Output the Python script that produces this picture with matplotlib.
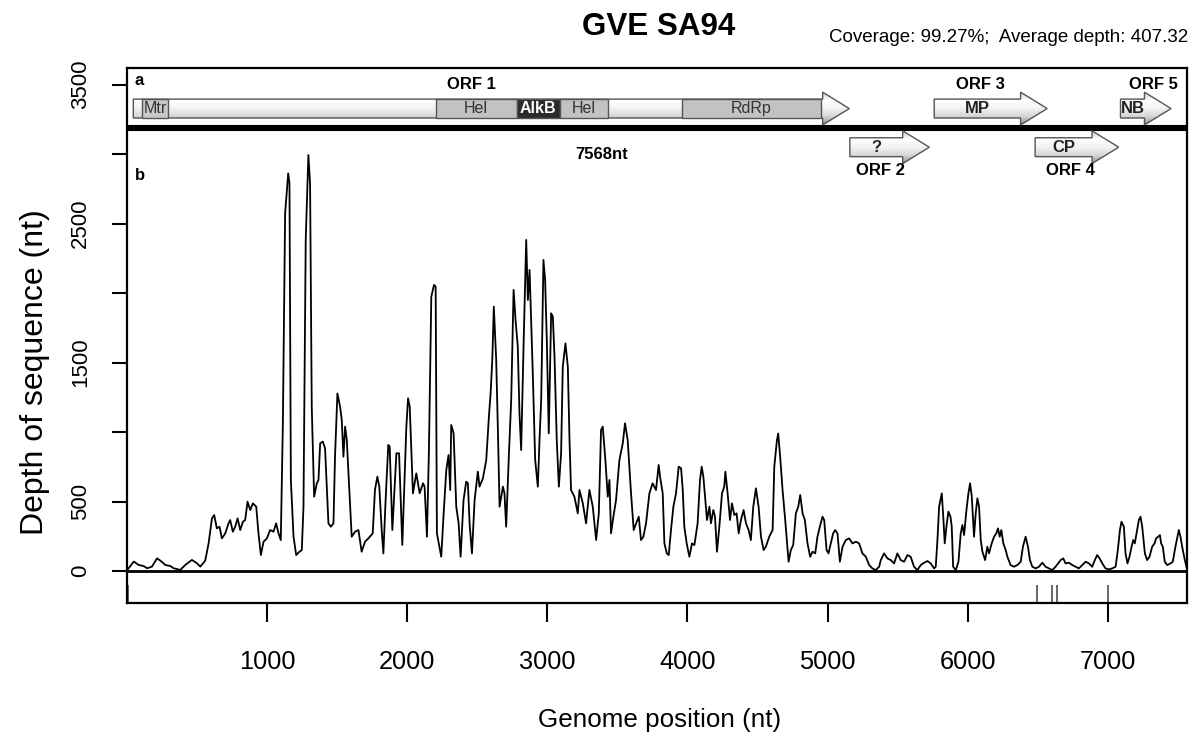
import numpy as np
import matplotlib
matplotlib.use('Agg')
import matplotlib.pyplot as plt
from matplotlib import font_manager
from matplotlib.patches import Polygon, Rectangle
from matplotlib.colors import LinearSegmentedColormap

# depth of sequence along the genome
pos = [2, 50, 85, 121, 145, 180, 216, 240, 275, 311, 335, 382, 418, 465, 501, 525, 560, 584, 608, 624,
       643, 662, 679, 703, 726, 738, 757, 774, 791, 810, 829, 845, 862, 881, 900, 924, 940, 957, 976, 1000,
       1023, 1047, 1066, 1083, 1099, 1114, 1130, 1152, 1161, 1171, 1190, 1209, 1232, 1249, 1261, 1277, 1296,
       1308, 1320, 1337, 1356, 1368, 1380, 1399, 1415, 1427, 1439, 1456, 1475, 1486, 1503, 1522, 1534, 1546,
       1558, 1570, 1589, 1605, 1629, 1653, 1676, 1700, 1724, 1755, 1771, 1788, 1802, 1819, 1831, 1847, 1866,
       1876, 1895, 1924, 1943, 1966, 1995, 2007, 2019, 2042, 2066, 2078, 2090, 2114, 2125, 2142, 2156, 2173,
       2192, 2204, 2213, 2244, 2261, 2280, 2296, 2308, 2315, 2332, 2351, 2368, 2382, 2403, 2422, 2434, 2446,
       2463, 2482, 2505, 2517, 2541, 2565, 2584, 2596, 2608, 2619, 2636, 2648, 2660, 2684, 2695, 2707, 2726,
       2743, 2760, 2774, 2790, 2802, 2814, 2831, 2850, 2862, 2874, 2885, 2897, 2914, 2933, 2945, 2957, 2973,
       2985, 2997, 3011, 3028, 3040, 3052, 3068, 3083, 3099, 3111, 3130, 3147, 3159, 3170, 3194, 3218, 3230,
       3254, 3277, 3301, 3325, 3349, 3368, 3384, 3396, 3415, 3432, 3444, 3455, 3472, 3491, 3515, 3539, 3555,
       3574, 3598, 3617, 3634, 3653, 3669, 3686, 3705, 3729, 3752, 3776, 3795,
       3805, 3824, 3836, 3853, 3867, 3883, 3900, 3919, 3938, 3955, 3967, 3978, 3995, 4014, 4033, 4050, 4073,
       4090, 4102, 4114, 4128, 4140, 4157, 4168, 4185, 4197, 4211, 4228, 4247, 4263, 4271, 4287, 4304, 4318,
       4335, 4351, 4366, 4382, 4401, 4418, 4437, 4453, 4470, 4489, 4508, 4525, 4544, 4560, 4584, 4608, 4620,
       4639, 4648, 4662, 4679, 4698, 4722, 4738, 4755, 4774, 4791, 4805, 4822, 4838, 4857, 4876, 4893, 4912,
       4928, 4945, 4964, 4976, 4993, 5007, 5023, 5040, 5054, 5071, 5088, 5107, 5130, 5154, 5178, 5202, 5225,
       5249, 5273, 5297, 5320, 5344, 5368, 5380, 5403, 5427, 5451, 5475, 5498, 5522, 5546, 5570, 5593, 5617,
       5641,
       5665, 5689, 5713, 5736, 5760, 5772, 5784, 5796, 5815, 5827, 5836, 5848, 5862, 5877, 5886, 5896, 5915,
       5934, 5950, 5962, 5974, 5991, 6005, 6017, 6029, 6045, 6057, 6069, 6081, 6093, 6105, 6124, 6140, 6152,
       6171, 6188, 6204, 6216, 6228, 6240, 6254, 6271, 6283, 6306, 6330, 6354, 6378, 6394, 6413, 6430, 6444,
       6461, 6485, 6508, 6532, 6556, 6580, 6603, 6627, 6663, 6682, 6698, 6722, 6746, 6770, 6793, 6817, 6841,
       6865, 6888, 6907, 6924, 6941, 6960, 6983, 7007, 7031, 7055, 7071, 7086, 7097, 7114, 7126, 7140, 7154,
       7169, 7181, 7192, 7209, 7221, 7233, 7245, 7264, 7280, 7297, 7316, 7333, 7344, 7359, 7371, 7380, 7392,
       7406, 7423, 7447, 7463, 7482, 7496, 7506, 7518, 7530, 7549, 7565]
depth = [5, 68, 44, 36, 20, 32, 91, 75, 44, 36, 20, 8, 44, 80, 56, 32, 75, 199, 379, 403,
         307, 319, 235, 271, 343, 367, 283, 319, 379, 295, 355, 367, 499, 439, 487, 463, 271, 115, 211, 235,
         295, 283, 343, 271, 223, 1063, 2573, 2861, 2789, 655, 247, 115, 139, 151, 463, 2382, 2993,
         2789, 1183, 535, 631, 655, 919, 931, 883, 607, 343, 319, 343, 823, 1278, 1183, 1087, 823,
         1039, 943, 559, 247, 283, 295, 139, 211, 235, 271, 583, 679, 607, 295, 127, 511, 907,
         895, 295, 847, 847, 188, 1039, 1243, 1183, 559, 703, 631, 559, 631, 607, 247, 871, 1974,
         2058, 2046, 271, 103, 415, 727, 835, 583, 1051, 991, 463, 343, 103, 511, 643, 631, 343,
         127, 511, 715, 607, 667, 799, 1111, 1278, 1518, 1902, 1518, 1015, 463, 607, 559, 319, 823,
         1231, 2022, 1806, 1614, 1135, 871, 1614, 2382, 1950, 2166, 1806, 1422, 799, 607, 943, 1231, 2238,
         2094, 1662, 991, 1854, 1830, 1542, 943, 607, 847, 1470, 1638, 1470, 943, 583, 535, 415, 583,
         487, 343, 583, 463, 223, 415, 1015, 1039, 799, 535, 655, 271, 391, 511, 799, 919, 1063,
         943, 559, 295, 343, 391, 223, 247, 343, 559, 631, 583, 763,
         679, 559, 199, 127, 115, 295, 463, 559, 751, 739, 583, 319, 199, 103, 199, 187, 343,
         655, 751, 679, 511, 367, 463, 343, 439, 391, 139, 319, 559, 607, 715, 559, 367, 487,
         403, 415, 271, 367, 439, 343, 295, 223, 463, 595, 463, 247, 151, 175, 247, 295, 751,
         942, 990, 822, 583, 367, 67, 151, 187, 415, 463, 547, 415, 367, 199, 103, 139, 127,
         247, 319, 391, 367, 151, 127, 199, 271, 295, 271, 67, 175, 223, 235, 199, 211, 199,
         127, 103, 43, 19, 7, 31, 79, 127, 91, 79, 55, 127, 79, 67, 115, 103, 31,
         7,
         43, 60, 72, 55, 19, 31, 223, 463, 559, 367, 199, 319, 427, 391, 319, 31, 7,
         67, 271, 331, 259, 439, 559, 631, 535, 247, 415, 523, 463, 223, 139, 79, 175, 127,
         199, 247, 271, 307, 247, 295, 199, 151, 103, 43, 31, 43, 67, 175, 247, 175, 79,
         31, 19, 31, 60, 31, 19, 7, 31, 79, 91, 55, 60, 43, 31, 19, 43, 67,
         55, 31, 79, 115, 91, 55, 19, 12, 19, 31, 151, 295, 355, 319, 127, 55, 103,
         175, 223, 199, 295, 367, 391, 319, 127, 79, 103, 175, 199, 235, 247, 259, 199, 175,
         67, 43, 55, 67, 175, 247, 295, 247, 175, 79, 12]

genome_len = 7568
gap_pos = [7, 6495, 6603, 6638, 7001]

orf_names = ['ORF 1', 'ORF 2', 'ORF 3', 'ORF 4', 'ORF 5']
orf_start = [47, 5159, 5761, 6481, 7090]
orf_end = [5155, 5726, 6567, 7077, 7451]
orf_row = [0, 1, 0, 1, 0]
orf_label_x = [2461, 5380, 6088, 6736, 7328]
orf_product = ['', '?', 'MP', 'CP', 'NB']

dom_names = ['Mtr', 'Hel', 'AlkB', 'Hel', 'RdRp']
dom_start = [107, 2205, 2782, 3089, 3960]
dom_end = [297, 2782, 3089, 3437, 4950]
dom_color = ['#c8c8c8', '#c2c2c2', '#2b2b2b', '#c2c2c2', '#c2c2c2']

# fonts (narrow face if the system has one)
names = {f.name for f in font_manager.fontManager.ttflist}
if 'Liberation Sans Narrow' in names:
    narrow = 'Liberation Sans Narrow'
    k = 1.0
else:
    narrow = 'Liberation Sans'
    k = 0.87
arial = 'Liberation Sans'

fig = plt.figure(figsize=(11.99, 7.42), dpi=100)
ax = fig.add_axes([0.1057, 0.1873, 0.8847, 0.7211])

ax.plot(pos, depth, color='black', lw=1.3, zorder=2)
ax.axhline(0, color='black', lw=2.0, zorder=3)
ax.axhline(3187, color='black', lw=4.4, zorder=3)
ax.vlines(gap_pos, -223, -101, color='#666666', lw=1.4)

# arrows for the ORFs
cm = LinearSegmentedColormap.from_list('cyl', ['#d0d0d0', '#ffffff', '#f2f2f2', '#d4d4d4', '#8c8c8c'])
grad = np.linspace(0, 1, 64).reshape(-1, 1)
row_y = [3327, 3049]
bh, hh, hl = 68, 118, 190
for i in range(len(orf_names)):
    x0, x1, yc = orf_start[i], orf_end[i], row_y[orf_row[i]]
    xb = x1 - hl
    pts = [(x0, yc - bh), (xb, yc - bh), (xb, yc - hh), (x1, yc),
           (xb, yc + hh), (xb, yc + bh), (x0, yc + bh)]
    poly = Polygon(pts, closed=True, fc='none', ec='#555555', lw=1.0, zorder=5)
    ax.add_patch(poly)
    im = ax.imshow(grad, extent=[x0, x1, yc - hh, yc + hh], aspect='auto', cmap=cm,
                   origin='upper', zorder=4, interpolation='bilinear')
    im.set_clip_path(poly)
    if orf_product[i]:
        ax.text((x0 + xb) / 2, yc, orf_product[i], ha='center', va='center',
                fontsize=12, fontweight='bold', family=arial, color='#222222', zorder=6)
    ly = 3497 if orf_row[i] == 0 else 2878
    ax.text(orf_label_x[i], ly, orf_names[i], ha='center', va='center',
            fontsize=12, fontweight='bold', family=arial, zorder=6)

for i in range(len(dom_names)):
    yc = row_y[0]
    ax.add_patch(Rectangle((dom_start[i], yc - bh), dom_end[i] - dom_start[i], 2 * bh,
                           fc=dom_color[i], ec='#555555', lw=1.0, zorder=6))
    tc = 'white' if dom_names[i] == 'AlkB' else '#333333'
    ax.text((dom_start[i] + dom_end[i]) / 2, yc, dom_names[i], ha='center', va='center',
            fontsize=11.5, fontweight='bold' if dom_names[i] == 'AlkB' else 'normal',
            family=arial, color=tc, zorder=7)

ax.text(55, 3532, 'a', fontsize=12, fontweight='bold', family=arial, va='center')
ax.text(55, 2849, 'b', fontsize=12, fontweight='bold', family=arial, va='center')
ax.text(3387, 2993, '7568nt', fontsize=12, fontweight='bold', family=arial,
        ha='center', va='center')

ax.set_xlim(0, genome_len)
ax.set_ylim(-230, 3619)

ax.set_xticks(range(1000, 8000, 1000))
ax.set_xticklabels([str(v) for v in range(1000, 8000, 1000)], family=narrow, fontsize=21 * k)
yt = list(range(0, 4000, 500))
ax.set_yticks(yt)
ax.set_yticklabels([str(v) if v in (0, 500, 1500, 2500, 3500) else '' for v in yt],
                   rotation=90, va='center', family=arial, fontsize=16)
ax.tick_params(axis='x', length=13.7, width=1.5, pad=20)
ax.tick_params(axis='y', length=10.8, width=1.5, pad=15)
for s in ax.spines.values():
    s.set_linewidth(1.6)

fig.text(0.5505, 0.0296, 'Genome position (nt)', ha='center', va='center',
         family=narrow, fontsize=21.5 * k)
fig.text(0.029, 0.4987, 'Depth of sequence (nt)', ha='center', va='center',
         rotation=90, family=arial, fontsize=23)
fig.text(0.549, 0.9636, 'GVE SA94', ha='center', va='center', family=narrow,
         fontweight='bold', fontsize=26 * k)
fig.text(0.9908, 0.950, 'Coverage: 99.27%;  Average depth: 407.32', ha='right', va='center',
         family=narrow, fontsize=15.5 * k)

fig.savefig('out.png', dpi=100)
